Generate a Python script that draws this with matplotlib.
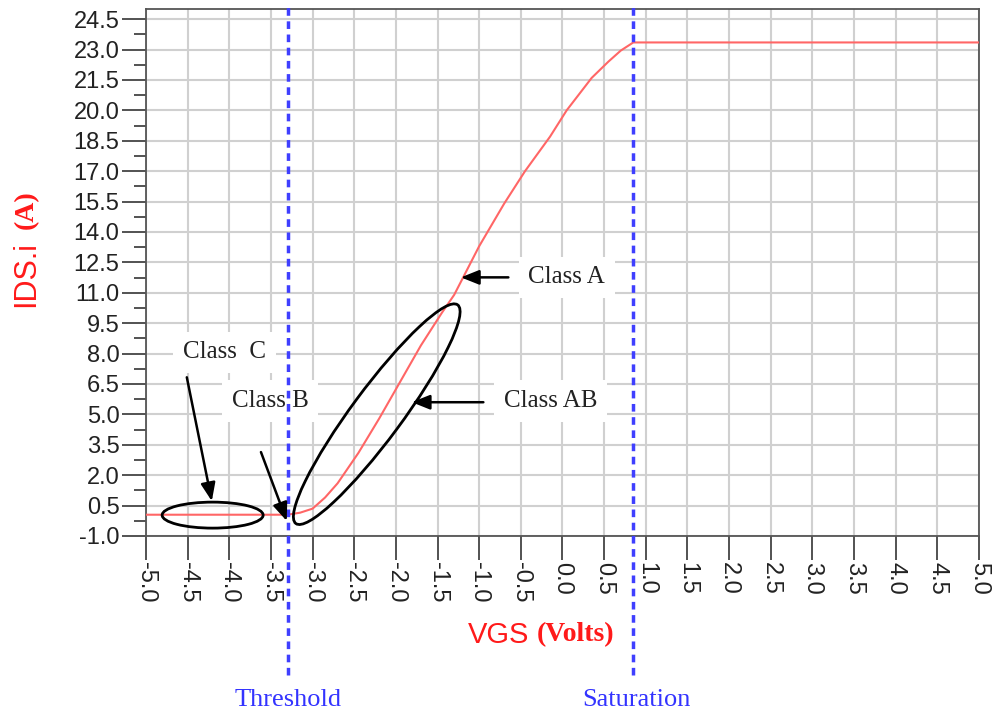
import numpy as np
import matplotlib
matplotlib.use("Agg")
import matplotlib.pyplot as plt
from matplotlib.patches import Ellipse
from matplotlib.transforms import ScaledTranslation

# transfer curve
vgs = [-5.0, -3.3, -3.15, -3.0, -2.85, -2.7, -2.45, -2.2, -1.95, -1.7, -1.45,
       -1.3, -1.0, -0.7, -0.45, -0.15, 0.05, 0.35, 0.55, 0.7, 0.85, 5.0]
ids = [0.05, 0.05, 0.15, 0.35, 0.9, 1.6, 3.1, 4.8, 6.6, 8.4, 10.0,
       10.9, 13.3, 15.4, 17.0, 18.7, 20.0, 21.6, 22.4, 22.95, 23.35, 23.35]

x_ticks = np.arange(-5.0, 5.01, 0.5)
y_ticks = np.arange(-1.0, 24.51, 1.5)
y_minor = np.arange(-0.25, 24.6, 1.5)

threshold_v = -3.3
saturation_v = 0.85

# class labels: text, text position, arrow tail, arrow tip
labels = ["Class  C", "Class B", "Class A", "Class AB"]
label_pos = [(-4.06, 8.06), (-3.51, 5.65), (0.05, 11.76), (-0.14, 5.65)]
arrow_tail = [(-4.51, 6.83), (-3.62, 3.14), (-0.65, 11.76), (-0.95, 5.6)]
arrow_tip = [(-4.21, 0.72), (-3.31, -0.26), (-1.22, 11.76), (-1.81, 5.6)]

# ellipses: centre (data), width/height (inches), angle
ell_center = [(-4.20, 0.03), (-2.23, 5.01)]
ell_size = [(1.01, 0.26), (2.72, 0.50)]
ell_angle = [0, 53.5]

fig = plt.figure(figsize=(9.95, 7.19), dpi=100)
ax = fig.add_axes([146/995, 1-536/719, 833/995, 527/719])

ax.plot(vgs, ids, color="#ff6666", lw=1.5, zorder=3)

ax.set_xlim(-5, 5)
ax.set_ylim(-1, 25)
ax.set_xticks(x_ticks)
ax.set_xticklabels([f"{v:.1f}" for v in x_ticks], rotation=270,
                   fontname="Liberation Sans", fontsize=17, color="#222222")
ax.set_yticks(y_ticks)
ax.set_yticklabels([f"{v:.1f}" for v in y_ticks],
                   fontname="Liberation Sans", fontsize=17, color="#222222")
ax.set_yticks(y_minor, minor=True)
ax.tick_params(axis="both", which="major", length=17, width=1.3,
               color="#444444", pad=2)
ax.tick_params(axis="y", which="minor", length=8.5, width=1.3, color="#444444")
ax.grid(True, which="major", color="#d0d0d0", lw=1.5, zorder=0)
for s in ax.spines.values():
    s.set_color("#555555")
    s.set_linewidth(1.3)

# vertical dashed markers running past the axes
for xv in [threshold_v, saturation_v]:
    ax.plot([xv, xv], [-0.264, 1.008], transform=ax.get_xaxis_transform(),
            color="#3f3fff", lw=2.5, dashes=(2.2, 1.6), clip_on=False, zorder=5)

for (cx, cy), (w, h), ang in zip(ell_center, ell_size, ell_angle):
    tr = fig.dpi_scale_trans + ScaledTranslation(cx, cy, ax.transData)
    ax.add_patch(Ellipse((0, 0), w, h, angle=ang, transform=tr, fill=False,
                         ec="black", lw=2, zorder=6))

for txt, pos, tail, tip in zip(labels, label_pos, arrow_tail, arrow_tip):
    ax.text(pos[0], pos[1], txt, fontname="Liberation Serif", fontsize=18,
            color="#222222", ha="center", va="center", zorder=4,
            bbox=dict(facecolor="white", edgecolor="none", pad=7))
    ax.annotate("", xy=tip, xytext=tail, zorder=7,
                arrowprops=dict(arrowstyle="-|>,head_length=0.55,head_width=0.22",
                                color="black", lw=1.8, mutation_scale=20,
                                shrinkA=0, shrinkB=0))

# axis titles (mixed fonts)
fig.text(26/995, 1-307/719, "IDS.i", rotation=90, ha="center", va="bottom",
         fontname="Liberation Sans", fontsize=22, color="#ff1a1a")
fig.text(26/995, 1-229/719, "(A)", rotation=90, ha="center", va="bottom",
         fontname="Liberation Serif", fontweight="bold", fontsize=20, color="#ff1a1a")
fig.text(468/995, 1-635/719, "VGS", ha="left", va="center",
         fontname="Liberation Sans", fontsize=21, color="#ff1a1a")
fig.text(537/995, 1-635/719, "(Volts)", ha="left", va="center",
         fontname="Liberation Serif", fontweight="bold", fontsize=20, color="#ff1a1a")

fig.text(288/995, 1-700/719, "Threshold", ha="center", va="center",
         fontname="Liberation Serif", fontsize=19, color="#3333ff")
fig.text(636/995, 1-700/719, "Saturation", ha="center", va="center",
         fontname="Liberation Serif", fontsize=19, color="#3333ff")

fig.savefig("out.png", dpi=100)
